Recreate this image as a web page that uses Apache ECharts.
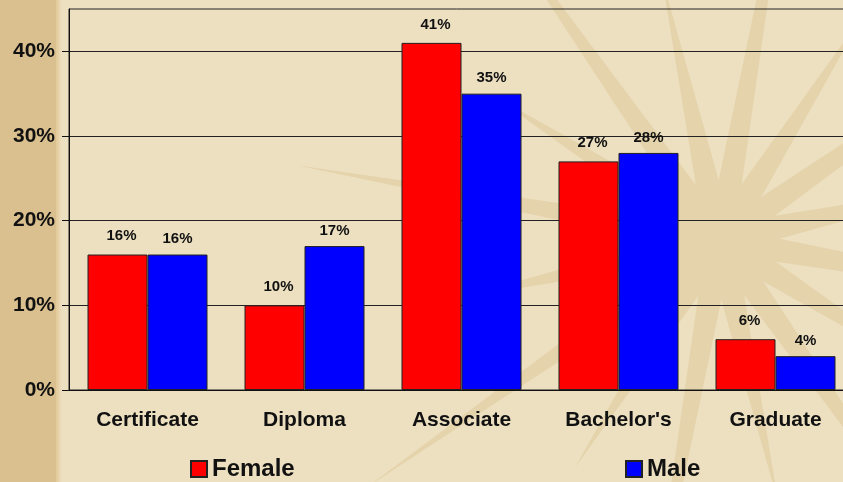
<!DOCTYPE html>
<html>
<head>
<meta charset="utf-8">
<script src="https://cdn.jsdelivr.net/npm/echarts@6/dist/echarts.min.js"></script>
<style>
  html, body { margin: 0; padding: 0; background: #ede0c1; }
  #chart { width: 843px; height: 482px; }
</style>
</head>
<body>
<div id="chart"></div>
<script>
var categories = ['Certificate', 'Diploma', 'Associate', "Bachelor's", 'Graduate']
var female = [16, 10, 41, 27, 6]
var male = [16, 17, 35, 28, 4]
var yTicks = [0, 10, 20, 30, 40]

// faint star behind the plot, one shape so the rays do not stack up
function starShape(cx, cy, count, longR, shortR, innerR, rot) {
  var pts = []
  for (var i = 0; i < count; i++) {
    var a = (rot + i * 360 / count) * Math.PI / 180
    var b = (rot + (i + 0.5) * 360 / count) * Math.PI / 180
    var r = i % 2 === 0 ? longR : shortR
    pts.push([cx + Math.cos(a) * r, cy + Math.sin(a) * r])
    pts.push([cx + Math.cos(b) * innerR, cy + Math.sin(b) * innerR])
  }
  return {
    type: 'polygon',
    z: -10,
    silent: true,
    shape: { points: pts },
    style: { fill: '#e5d3ab' }
  }
}

var graphics = [
  starShape(720, 240, 16, 430, 270, 60, -80),
  { type: 'rect', z: -5, silent: true, shape: { x: 0, y: 0, width: 56, height: 482 }, style: { fill: '#dac08e' } },
  {
    type: 'rect', z: -5, silent: true, shape: { x: 56, y: 0, width: 6, height: 482 },
    style: {
      fill: new echarts.graphic.LinearGradient(0, 0, 1, 0, [
        { offset: 0, color: '#e2c998' },
        { offset: 1, color: '#ede0c1' }
      ])
    }
  }
]

var legendText = { fontSize: 24, fontWeight: 'bold', color: '#111' }

var chart = echarts.init(document.getElementById('chart'))
chart.setOption({
  backgroundColor: '#ede0c1',
  animation: false,
  textStyle: { fontFamily: 'Liberation Sans, Arial, sans-serif' },
  graphic: graphics,
  grid: {
    left: 69, right: -11, top: 9, bottom: 92,
    containLabel: false, outerBoundsMode: 'none',
    show: true, backgroundColor: 'transparent', borderColor: '#222', borderWidth: 1
  },
  legend: [
    { data: ['Female'], left: 190, top: 457, padding: 0, itemWidth: 16, itemHeight: 16, icon: 'rect', textStyle: legendText },
    { data: ['Male'], left: 625, top: 457, padding: 0, itemWidth: 16, itemHeight: 16, icon: 'rect', textStyle: legendText }
  ],
  xAxis: {
    type: 'category',
    data: categories,
    axisLine: { lineStyle: { color: '#111', width: 1 } },
    axisTick: { length: 6, lineStyle: { color: '#111' } },
    axisLabel: { margin: 20, fontSize: 21, fontWeight: 'bold', color: '#111' }
  },
  yAxis: {
    type: 'value',
    min: 0,
    max: 45,
    interval: 10,
    axisLine: { show: true, lineStyle: { color: '#111', width: 1 } },
    axisTick: { show: true, length: 7, customValues: yTicks, lineStyle: { color: '#111' } },
    axisLabel: {
      margin: 14, fontSize: 21, fontWeight: 'bold', color: '#111',
      customValues: yTicks,
      formatter: function (v) { return v + '%' }
    },
    splitLine: { show: true, lineStyle: { color: '#222', width: 1 } }
  },
  series: [
    {
      name: 'Female',
      type: 'bar',
      data: female,
      barWidth: 60,
      barGap: '0%',
      itemStyle: { color: '#ff0000', borderColor: '#222', borderWidth: 1 },
      label: {
        show: true, position: 'top', distance: 11, offset: [4, 0],
        formatter: '{c}%', fontSize: 15, fontWeight: 'bold', color: '#111'
      }
    },
    {
      name: 'Male',
      type: 'bar',
      data: male,
      barWidth: 60,
      itemStyle: { color: '#0000ff', borderColor: '#222', borderWidth: 1 },
      label: {
        show: true, position: 'top', distance: 8,
        formatter: '{c}%', fontSize: 15, fontWeight: 'bold', color: '#111'
      }
    }
  ]
})
</script>
</body>
</html>
